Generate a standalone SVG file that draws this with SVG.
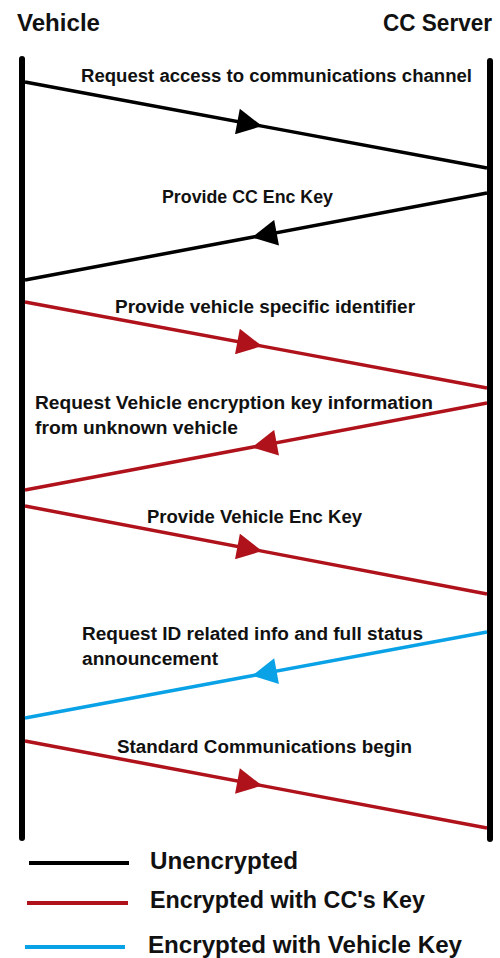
<svg xmlns="http://www.w3.org/2000/svg" width="500" height="958" viewBox="0 0 500 958">
<style>
text{font-family:"Liberation Sans",Arial,sans-serif;font-weight:bold;fill:#111}
.title{font-size:24px}
.msg{font-size:18px}
.leg{font-size:23px}
.life{stroke:#000;stroke-width:6;stroke-linecap:round;fill:none}
.m{stroke-width:3.5;fill:none;stroke-linecap:butt}
.k{stroke:#000}
.r{stroke:#B0121B}
.b{stroke:#0AA2E6}
.lg{stroke-width:4;fill:none}
</style>
<defs>
<marker id="ak" markerUnits="userSpaceOnUse" markerWidth="26" markerHeight="26" viewBox="0 0 25 26" refX="25" refY="13" orient="auto"><path d="M0,0 L25,13 L0,26 z" fill="#000"/></marker>
<marker id="ar" markerUnits="userSpaceOnUse" markerWidth="26" markerHeight="26" viewBox="0 0 25 26" refX="25" refY="13" orient="auto"><path d="M0,0 L25,13 L0,26 z" fill="#B0121B"/></marker>
<marker id="ab" markerUnits="userSpaceOnUse" markerWidth="26" markerHeight="26" viewBox="0 0 25 26" refX="25" refY="13" orient="auto"><path d="M0,0 L25,13 L0,26 z" fill="#0AA2E6"/></marker>
</defs>
<rect width="500" height="958" fill="#fff"/>
<g id="vehicle">
<text class="title" x="17" y="31" textLength="83" lengthAdjust="spacingAndGlyphs">Vehicle</text>
<line class="life" x1="22" y1="59" x2="22" y2="838"/>
</g>
<g id="cc-server">
<text class="title" x="383" y="31" textLength="109" lengthAdjust="spacingAndGlyphs">CC Server</text>
<line class="life" x1="490" y1="61" x2="490" y2="839"/>
</g>
<g id="connectors">
<path class="m k" d="M25,82 L262,126.1 L487,168" marker-mid="url(#ak)"/>
<path class="m k" d="M487,193 L252,237.3 L25,280" marker-mid="url(#ak)"/>
<path class="m r" d="M25,302 L262,346.1 L487,388" marker-mid="url(#ar)"/>
<path class="m r" d="M487,403 L252,447.3 L25,490" marker-mid="url(#ar)"/>
<path class="m r" d="M25,506 L262,551.1 L487,594" marker-mid="url(#ar)"/>
<path class="m b" d="M487,632 L252,675.7 L25,718" marker-mid="url(#ab)"/>
<path class="m r" d="M25,741 L262,785.6 L487,828" marker-mid="url(#ar)"/>
</g>
<g id="labels">
<text class="msg" x="81" y="82" textLength="391" lengthAdjust="spacingAndGlyphs">Request access to communications channel</text>
<text class="msg" x="162" y="203" textLength="171" lengthAdjust="spacingAndGlyphs">Provide CC Enc Key</text>
<text class="msg" x="115" y="313" textLength="300" lengthAdjust="spacingAndGlyphs">Provide vehicle specific identifier</text>
<text class="msg" x="35" y="409" textLength="398" lengthAdjust="spacingAndGlyphs">Request Vehicle encryption key information</text>
<text class="msg" x="35" y="434" textLength="203" lengthAdjust="spacingAndGlyphs">from unknown vehicle</text>
<text class="msg" x="147" y="523" textLength="215" lengthAdjust="spacingAndGlyphs">Provide Vehicle Enc Key</text>
<text class="msg" x="82" y="640" textLength="341" lengthAdjust="spacingAndGlyphs">Request ID related info and full status</text>
<text class="msg" x="82" y="665" textLength="136" lengthAdjust="spacingAndGlyphs">announcement</text>
<text class="msg" x="117" y="753" textLength="295" lengthAdjust="spacingAndGlyphs">Standard Communications begin</text>
</g>
<g id="legend">
<line class="lg k" x1="29" y1="863" x2="129" y2="863"/>
<text class="leg" x="150" y="869" textLength="148" lengthAdjust="spacingAndGlyphs">Unencrypted</text>
<line class="lg r" x1="27" y1="903" x2="128" y2="903"/>
<text class="leg" x="150" y="908" textLength="275" lengthAdjust="spacingAndGlyphs">Encrypted with CC's Key</text>
<line class="lg b" x1="25" y1="947" x2="125" y2="947"/>
<text class="leg" x="148" y="953" textLength="314" lengthAdjust="spacingAndGlyphs">Encrypted with Vehicle Key</text>
</g>
</svg>
